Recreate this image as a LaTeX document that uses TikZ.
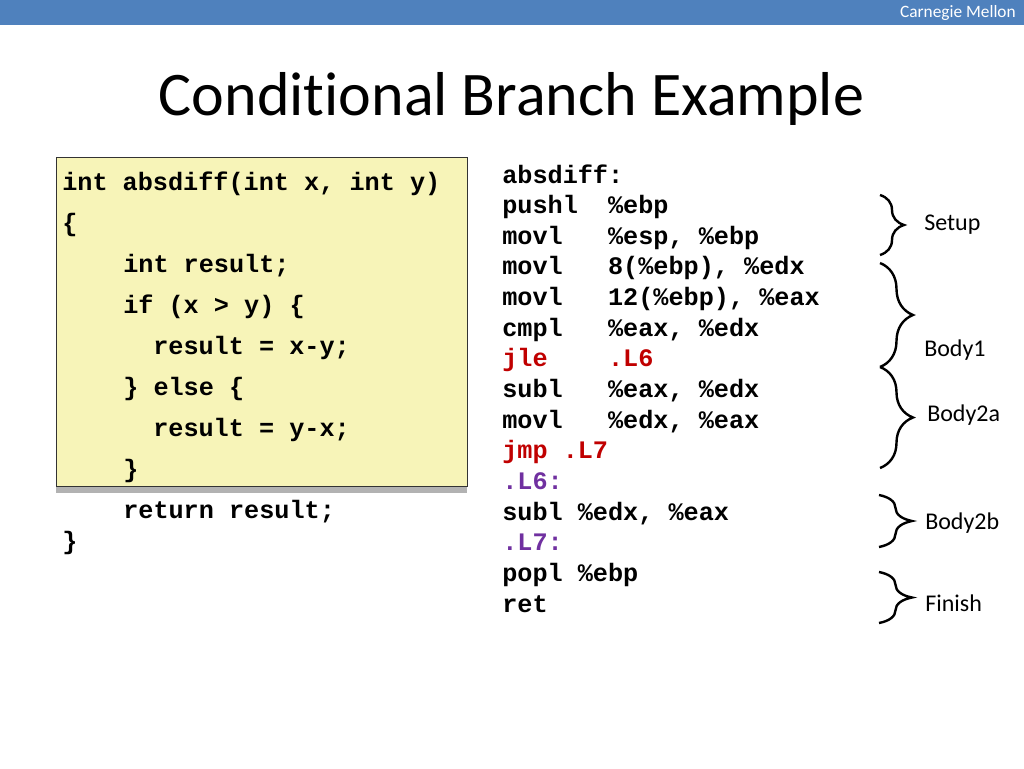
\documentclass[tikz,border=0pt]{standalone}
\usepackage{fontspec}
\setmainfont{Carlito}[Ligatures=NoCommon]
\setmonofont{Liberation Mono}
\usetikzlibrary{decorations.pathreplacing}
\definecolor{slideblue}{HTML}{4F81BD}
\definecolor{codebg}{HTML}{F7F4B8}
\definecolor{jumpred}{HTML}{C00000}
\definecolor{labelpurple}{HTML}{7030A0}
\tikzset{
    code/.style={anchor=base west, inner sep=0pt, font=\fontsize{18.9}{22}\selectfont\ttfamily\bfseries},
    tag/.style={anchor=west, inner sep=0pt, font=\fontsize{18}{22}\selectfont},
    brc/.style={decorate, decoration={brace, amplitude=#1}, line width=1.8pt},
}
\begin{document}
\begin{tikzpicture}[x=0.75pt, y=-0.75pt]
    \useasboundingbox (0, 0) rectangle (1024, 768);
    \fill[slideblue] (0, 0) rectangle (1024, 25);
    \node[anchor=east, inner sep=0pt, text=white, font=\fontsize{13}{15}\selectfont] (lab) at(1016, 13) {Carnegie Mellon};
    \node[anchor=base, inner sep=0pt, font=\fontsize{46.5}{52}\selectfont] (title) at(511.5, 115) {Conditional Branch Example};
    \fill[black!30] (56, 486) rectangle (467, 493);
    \draw[fill=codebg, draw=black!80, line width=0.75pt] (56, 157) rectangle (467, 486);
    \node[code] (c1) at(62, 190) {int absdiff(int x, int y)};
    \node[code] (c2) at(62, 231) {\{};
    \node[code] (c3) at(123, 272) {int result;};
    \node[code] (c4) at(123, 313) {if (x > y) \{};
    \node[code] (c5) at(153, 354) {result = x-y;};
    \node[code] (c6) at(123, 395) {\} else \{};
    \node[code] (c7) at(153, 436) {result = y-x;};
    \node[code] (c8) at(123, 477) {\}};
    \node[code] (c9) at(123, 518) {return result;};
    \node[code] (c10) at(62, 549) {\}};
    \node[code] (a0) at(502, 183) {absdiff:};
    \node[code] (a1) at(502, 213.6) {pushl~~\%ebp};
    \node[code] (a2) at(502, 244.3) {movl~~~\%esp, \%ebp};
    \node[code] (a3) at(502, 274.9) {movl~~~8(\%ebp), \%edx};
    \node[code] (a4) at(502, 305.6) {movl~~~12(\%ebp), \%eax};
    \node[code] (a5) at(502, 336.2) {cmpl~~~\%eax, \%edx};
    \node[code, text=jumpred] (a6) at(502, 366.8) {jle~~~~.L6};
    \node[code] (a7) at(502, 397.5) {subl~~~\%eax, \%edx};
    \node[code] (a8) at(502, 428.1) {movl~~~\%edx, \%eax};
    \node[code, text=jumpred] (a9) at(502, 458.8) {jmp .L7};
    \node[code, text=labelpurple] (a10) at(502, 489.4) {.L6:};
    \node[code] (a11) at(502, 520) {subl \%edx, \%eax};
    \node[code, text=labelpurple] (a12) at(502, 550.7) {.L7:};
    \node[code] (a13) at(502, 581.3) {popl \%ebp};
    \node[code] (a14) at(502, 612) {ret};
    \coordinate (setup-top) at(880, 195);
    \coordinate (setup-bot) at(880, 255);
    \coordinate (body1-top) at(880, 263);
    \coordinate (body-mid) at(880, 367);
    \coordinate (body2a-bot) at(880, 468);
    \coordinate (body2b-top) at(879, 495);
    \coordinate (body2b-bot) at(879, 547);
    \coordinate (finish-top) at(879, 572);
    \coordinate (finish-bot) at(879, 623);
    \draw[brc=18pt] (setup-top) -- (setup-bot);
    \draw[brc=24.75pt] (body1-top) -- (body-mid);
    \draw[brc=24.75pt] (body-mid) -- (body2a-bot);
    \draw[brc=24.75pt] (body2b-top) -- (body2b-bot);
    \draw[brc=24.75pt] (finish-top) -- (finish-bot);
    \node[tag] (setup) at(924, 225) {Setup};
    \node[tag] (body1) at(924, 350) {Body1};
    \node[tag] (body2a) at(927, 415) {Body2a};
    \node[tag] (body2b) at(925, 523) {Body2b};
    \node[tag] (finish) at(925, 603) {Finish};
\end{tikzpicture}
\end{document}
